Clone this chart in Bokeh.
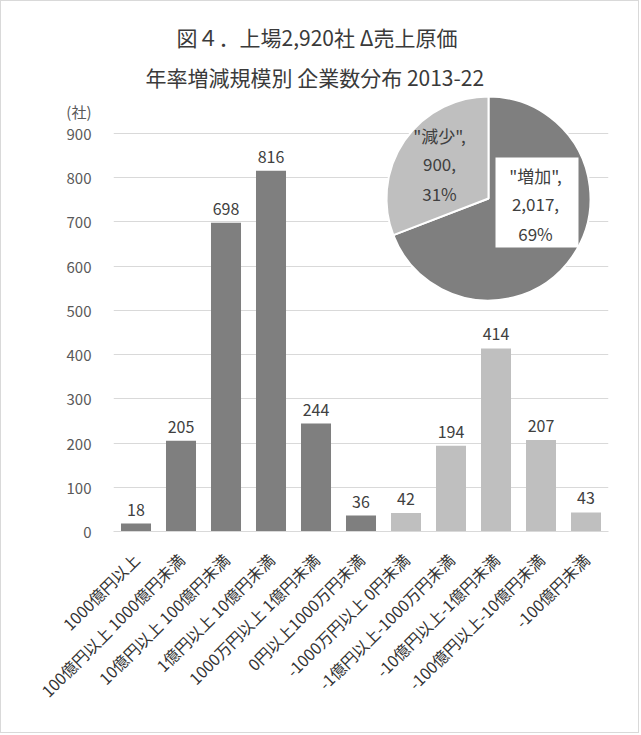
import math
from bokeh.plotting import figure
from bokeh.models import Range1d, FixedTicker, Title, ColumnDataSource, LabelSet
from bokeh.core.properties import value
from bokeh.embed import file_html
from bokeh.resources import INLINE

# ---------------- data ----------------
categories = [
    "1000億円以上",
    "100億円以上 1000億円未満",
    "10億円以上 100億円未満",
    "1億円以上 10億円未満",
    "1000万円以上 1億円未満",
    "0円以上1000万円未満",
    "-1000万円以上 0円未満",
    "-1億円以上-1000万円未満",
    "-10億円以上-1億円未満",
    "-100億円以上-10億円未満",
    "-100億円未満",
]
counts = [18, 205, 698, 816, 244, 36, 42, 194, 414, 207, 43]
groups = ["増加"] * 6 + ["減少"] * 5
pie_labels = ["増加", "減少"]
y_ticks = [0, 100, 200, 300, 400, 500, 600, 700, 800, 900]
title_lines = ["図４．上場2,920社 Δ売上原価", "年率増減規模別 企業数分布 2013-22"]
unit_label = "(社)"

group_colors = {"増加": "#7f7f7f", "減少": "#bfbfbf"}
pie_values = [sum(c for c, g in zip(counts, groups) if g == lab) for lab in pie_labels]
total = sum(pie_values)
positions = list(range(len(categories)))

FONT = "Noto Sans CJK JP"

# ---------------- layout (page pixels) ----------------
W, H = 641, 735
frame_left, frame_right = 113, 608
frame_top, frame_bottom = 95, 531
y900_page = 133
frame_w = frame_right - frame_left
frame_h = frame_bottom - frame_top
px_per_unit = (frame_bottom - y900_page) / 900
y_end = frame_h / px_per_unit
unit_tick = round((frame_bottom - 111) / px_per_unit)

def fx(px):
    return px - frame_left

def fy(py):
    return frame_bottom - py

p = figure(
    width=W - 2, height=H - 2,
    x_range=Range1d(-0.5, len(categories) - 0.5),
    y_range=Range1d(0, y_end),
    output_backend="svg", toolbar_location=None, title=None,
    min_border_left=frame_left - 1, min_border_right=W - frame_right - 1,
    min_border_top=frame_top - 1, min_border_bottom=H - frame_bottom - 1,
)
p.styles = {"border": "1px solid #d9d9d9"}
p.outline_line_color = None
p.background_fill_color = "white"
p.border_fill_color = "white"

# grid & axes
p.xgrid.visible = False
p.ygrid.ticker = FixedTicker(ticks=y_ticks)
p.ygrid.grid_line_color = "#d9d9d9"
p.ygrid.grid_line_width = 1
p.yaxis.ticker = FixedTicker(ticks=y_ticks + [unit_tick])
p.yaxis.major_label_overrides = {unit_tick: unit_label}
p.yaxis.axis_line_color = None
p.yaxis.major_tick_line_color = None
p.yaxis.minor_tick_line_color = None
p.yaxis.major_label_text_font = FONT
p.yaxis.major_label_text_font_size = "15px"
p.yaxis.major_label_text_color = "#595959"
p.yaxis.major_label_standoff = 16

p.xaxis.ticker = FixedTicker(ticks=positions)
p.xaxis.major_label_overrides = {i: c for i, c in zip(positions, categories)}
p.xaxis.axis_line_color = "#d9d9d9"
p.xaxis.major_tick_line_color = None
p.xaxis.minor_tick_line_color = None
p.xaxis.major_label_orientation = math.pi / 4
p.xaxis.major_label_text_font = FONT
p.xaxis.major_label_text_font_size = "16px"
p.xaxis.major_label_text_color = "#333333"
p.xaxis.major_label_standoff = 19

# bars
src = ColumnDataSource(dict(
    x=positions,
    count=counts,
    label=[str(c) for c in counts],
    color=[group_colors[g] for g in groups],
))
p.vbar(x="x", top="count", width=0.667, color="color", line_color=None, source=src)
p.add_layout(LabelSet(
    x="x", y="count", text="label", source=src,
    text_align="center", text_baseline="alphabetic", y_offset=8,
    text_font=value(FONT), text_font_size="16px", text_color="#404040",
))

# pie (pixel-space extra ranges over the frame)
p.extra_x_ranges = {"px": Range1d(0, frame_w)}
p.extra_y_ranges = {"px": Range1d(0, frame_h)}
cx, cy, r = fx(488), fy(198), 102
starts, ends = [], []
cum = 0.0
for v in pie_values:
    a0 = cum / total * 2 * math.pi
    cum += v
    a1 = cum / total * 2 * math.pi
    starts.append(math.pi / 2 - a1)
    ends.append(math.pi / 2 - a0)
pie_src = ColumnDataSource(dict(
    x=[cx] * len(pie_values), y=[cy] * len(pie_values),
    start=starts, end=ends,
    color=[group_colors[l] for l in pie_labels],
))
p.wedge(x="x", y="y", radius=r, radius_units="screen",
        start_angle="start", end_angle="end", direction="anticlock",
        fill_color="color", line_color="white", line_width=2,
        source=pie_src, x_range_name="px", y_range_name="px")

# pie data labels
label_pos = {"増加": (535, 204), "減少": (439, 164)}
box = {"増加": (536.5, 202, 83, 90)}
line_gap = 29
for lab, v in zip(pie_labels, pie_values):
    pct = round(v / total * 100)
    lines = [f'"{lab}",', f"{v:,},", f"{pct}%"]
    px_, py_ = label_pos[lab]
    if lab in box:
        bx, by, bw, bh = box[lab]
        p.rect(x=[fx(bx)], y=[fy(by)], width=bw, height=bh,
               width_units="screen", height_units="screen",
               fill_color="white", line_color=None,
               x_range_name="px", y_range_name="px")
    ys = [fy(py_ + (i - 1) * line_gap) for i in range(3)]
    p.text(x=[fx(px_)] * 3, y=ys, text=lines,
           text_align="center", text_baseline="middle",
           text_font=value(FONT), text_font_size="17px", text_color="#404040",
           x_range_name="px", y_range_name="px")

# titles (line 2 first: nearest the frame)
title_offsets = [63, 32]
title_standoffs = [7, 8]
for i in reversed(range(len(title_lines))):
    p.add_layout(Title(
        text=title_lines[i], align="left", offset=title_offsets[i],
        standoff=title_standoffs[i],
        text_font=FONT, text_font_size="21px", text_font_style="normal",
        text_color="#3a3a3a",
    ), "above")

open("out.html", "w").write(file_html(p, INLINE))
